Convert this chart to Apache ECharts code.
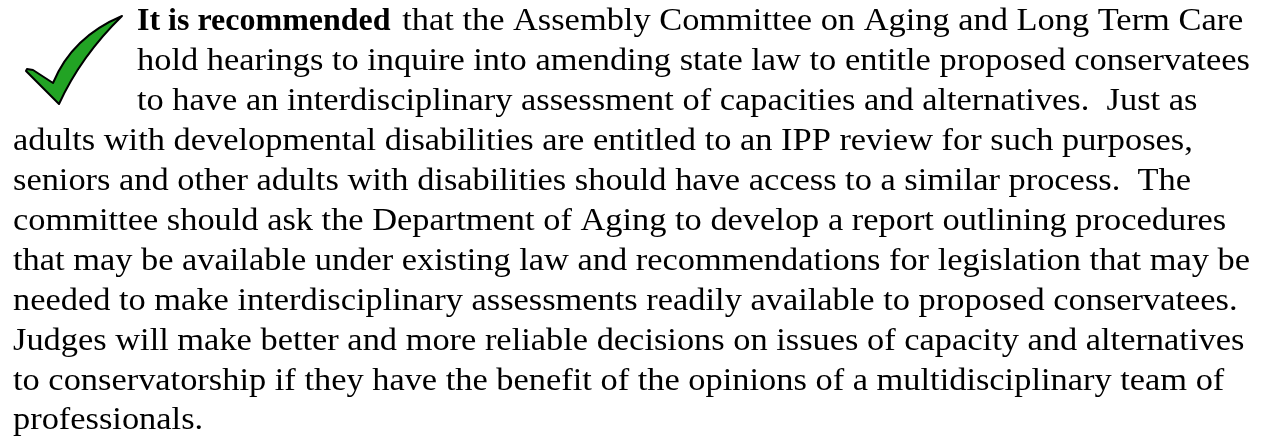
<!DOCTYPE html>
<html>
<head>
<meta charset="utf-8">
<script src="https://cdn.jsdelivr.net/npm/echarts@6/dist/echarts.min.js"></script>
<style>
html,body{margin:0;padding:0;background:#fff;}
#main{width:1270px;height:444px;}
</style>
</head>
<body>
<div id="main"></div>
<script>
// Text content of the recommendation box
var boldLead = 'It is recommended';
var paragraphLines = [
  ' that the Assembly Committee on Aging and Long Term Care',
  'hold hearings to inquire into amending state law to entitle proposed conservatees',
  'to have an interdisciplinary assessment of capacities and alternatives.  Just as',
  'adults with developmental disabilities are entitled to an IPP review for such purposes,',
  'seniors and other adults with disabilities should have access to a similar process.  The',
  'committee should ask the Department of Aging to develop a report outlining procedures',
  'that may be available under existing law and recommendations for legislation that may be',
  'needed to make interdisciplinary assessments readily available to proposed conservatees.',
  'Judges will make better and more reliable decisions on issues of capacity and alternatives',
  'to conservatorship if they have the benefit of the opinions of a multidisciplinary team of',
  'professionals.'
];
var indentedLineCount = 3; // lines wrapped beside the check mark

var checkPath = 'M27 69 L33 70 L53 83 Q72 37 122 16 Q81 56 59 104 L26 71 Z';
echarts.graphic.registerShape('checkMark', echarts.graphic.extendPath(checkPath, {}));

var chart = echarts.init(document.getElementById('main'), null, {renderer: 'canvas'});

var fontFamily = '"Times New Roman", "Liberation Serif", serif';
var fontSize = 32;
var lineGap = 39.9;
var firstMiddle = 22;
var leftX = 13;
var indentX = 137;
var stretch = 1.075;

var ctx = document.createElement('canvas').getContext('2d');
ctx.font = 'bold ' + fontSize + 'px ' + fontFamily;
var boldWidth = ctx.measureText(boldLead).width;

var elements = [];
elements.push({
  type: 'checkMark',
  style: {fill: '#22a324', stroke: '#000', lineWidth: 2, lineJoin: 'round'}
});

elements.push({
  type: 'text',
  x: indentX,
  y: firstMiddle,
  style: {
    text: boldLead, fill: '#000', fontFamily: fontFamily, fontSize: fontSize,
    fontWeight: 'bold', verticalAlign: 'middle', align: 'left'
  }
});

paragraphLines.forEach(function (line, i) {
  var x = i < indentedLineCount ? indentX : leftX;
  if (i === 0) x = indentX + boldWidth + 3;
  elements.push({
    type: 'text',
    x: x,
    y: firstMiddle + i * lineGap,
    scaleX: stretch,
    style: {
      text: line,
      fill: '#000',
      fontFamily: fontFamily,
      fontSize: fontSize,
      verticalAlign: 'middle',
      align: 'left'
    }
  });
});

chart.setOption({
  backgroundColor: '#fff',
  animation: false,
  graphic: {elements: elements}
});
</script>
</body>
</html>
